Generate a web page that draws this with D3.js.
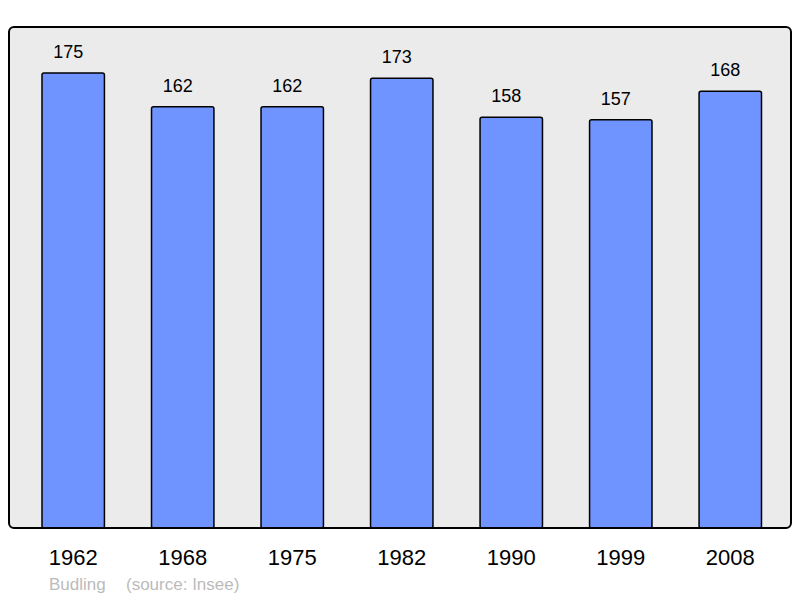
<!DOCTYPE html>
<html><head><meta charset="utf-8">
<script src="https://cdn.jsdelivr.net/npm/d3@7"></script>
<style>html,body{margin:0;padding:0;background:#fff;}svg{display:block;font-family:"Liberation Sans",Arial,sans-serif;}</style>
</head><body>
<svg id="chart" width="800" height="598"></svg>
<script>
const years = ["1962","1968","1975","1982","1990","1999","2008"];
const population = [175,162,162,173,158,157,168];
const commune = "Budling";
const source = "(source: Insee)";

const svg = d3.select("#chart");
const frame = {x:9, y:27, w:782, h:501};
const x = d3.scaleBand().domain(years).range([20.1, 783.4]).paddingInner(0.43).paddingOuter(0.2);
const y = d3.scaleLinear().domain([0, 192.7]).range([frame.y + frame.h, frame.y]);

svg.append("rect").attr("x",frame.x).attr("y",frame.y).attr("width",frame.w).attr("height",frame.h)
  .attr("rx",5).attr("fill","#ebebeb");

const data = years.map((yr,i)=>({yr, v:population[i]}));
svg.selectAll("rect.bar").data(data).join("rect").attr("class","bar")
  .attr("x",d=>x(d.yr)).attr("y",d=>y(d.v))
  .attr("width",x.bandwidth()).attr("height",d=>y(0)-y(d.v))
  .attr("rx",2).attr("fill","#7094ff").attr("stroke","#000").attr("stroke-width",1.5);

svg.selectAll("text.val").data(data).join("text").attr("class","val")
  .attr("x",d=>x(d.yr)+x.bandwidth()/2-5).attr("y",d=>y(d.v)-15)
  .attr("text-anchor","middle").attr("font-size",18).attr("fill","#000").text(d=>d.v);

svg.append("rect").attr("x",frame.x).attr("y",frame.y).attr("width",frame.w).attr("height",frame.h)
  .attr("rx",5).attr("fill","none").attr("stroke","#000").attr("stroke-width",2);

const ax = svg.append("g").attr("transform",`translate(0,${y(0)})`)
  .call(d3.axisBottom(x).tickSize(0).tickPadding(21.4));
ax.select(".domain").remove();
ax.selectAll("text").attr("font-size",22).attr("fill","#000").attr("font-family","Liberation Sans, Arial, sans-serif");

svg.append("text").attr("x",49).attr("y",590).attr("font-size",17).attr("fill","#bbbbbb").text(commune);
svg.append("text").attr("x",126).attr("y",590).attr("font-size",17).attr("fill","#bbbbbb").text(source);
</script>
</body></html>
